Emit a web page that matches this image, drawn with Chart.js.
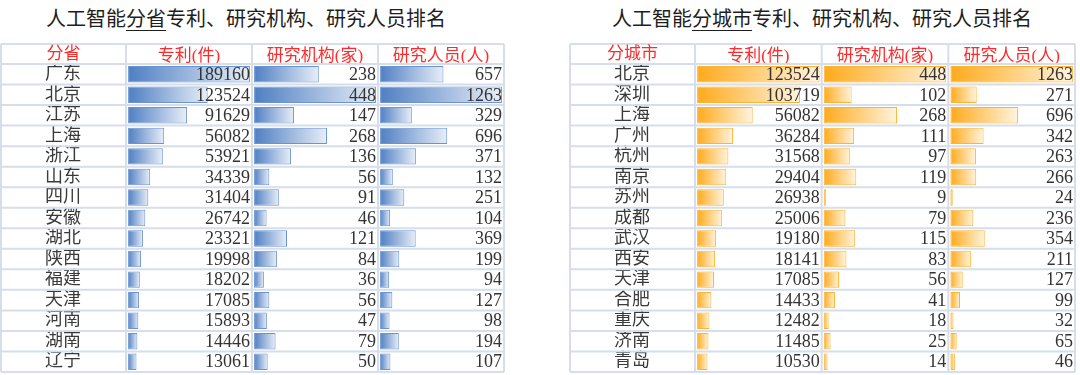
<!DOCTYPE html>
<html>
<head>
<meta charset="utf-8">
<script src="https://cdn.jsdelivr.net/npm/chart.js@4.4.1/dist/chart.umd.min.js"></script>
<style>
  html, body { margin: 0; padding: 0; background: #fff; }
  #page { position: relative; width: 1080px; height: 375px; overflow: hidden; }
  .title { position: absolute; top: 6px; font-family: 'Noto Sans CJK SC', sans-serif; font-size: 20px; line-height: 24px; color: #1e1e1e; text-align: center; white-space: nowrap; }
  .title u { text-underline-offset: 4px; text-decoration-thickness: 1px; }
  canvas { position: absolute; top: 0; }
</style>
</head>
<body>
<div id="page">
  <div class="title" style="left:0; width:492px;">人工智能<u>分省</u>专利、研究机构、研究人员排名</div>
  <div class="title" style="left:572px; width:500px;">人工智能<u>分城市</u>专利、研究机构、研究人员排名</div>
  <canvas id="provinceChart" width="540" height="375" style="left:0;"></canvas>
  <canvas id="cityChart" width="540" height="375" style="left:540px;"></canvas>
</div>
<script>
// 分省
const provinces = ['广东', '北京', '江苏', '上海', '浙江', '山东', '四川', '安徽', '湖北', '陕西', '福建', '天津', '河南', '湖南', '辽宁'];
const provPatents = [189160, 123524, 91629, 56082, 53921, 34339, 31404, 26742, 23321, 19998, 18202, 17085, 15893, 14446, 13061];
const provInstitutes = [238, 448, 147, 268, 136, 56, 91, 46, 121, 84, 36, 56, 47, 79, 50];
const provResearchers = [657, 1263, 329, 696, 371, 132, 251, 104, 369, 199, 94, 127, 98, 194, 107];
const provHeaders = ['分省', '专利(件)', '研究机构(家)', '研究人员(人)'];

// 分城市
const cities = ['北京', '深圳', '上海', '广州', '杭州', '南京', '苏州', '成都', '武汉', '西安', '天津', '合肥', '重庆', '济南', '青岛'];
const cityPatents = [123524, 103719, 56082, 36284, 31568, 29404, 26938, 25006, 19180, 18141, 17085, 14433, 12482, 11485, 10530];
const cityInstitutes = [448, 102, 268, 111, 97, 119, 9, 79, 115, 83, 56, 41, 18, 25, 14];
const cityResearchers = [1263, 271, 696, 342, 263, 266, 24, 236, 354, 211, 127, 99, 32, 65, 46];
const cityHeaders = ['分城市', '专利(件)', '研究机构(家)', '研究人员(人)'];

const blueBars = { start: '#4f7fc2', end: '#e8eef8', border: '#6a93cf' };
const orangeBars = { start: '#ffaa1c', end: '#fff4de', border: '#ffb431' };

const serifFont = "'Liberation Serif', 'Noto Sans CJK SC', serif";
const gridColor = '#d6deec';

// gradient running from the bar's base to its end, like Excel data bars
function barGradient(context, axisId, palette) {
    const chart = context.chart;
    const scale = chart.scales[axisId];
    if (!chart.chartArea || !scale || context.raw === undefined) {
        return palette.start;
    }
    const x0 = scale.getPixelForValue(0);
    const x1 = scale.getPixelForValue(context.raw);
    if (!isFinite(x0) || !isFinite(x1) || x1 <= x0) {
        return palette.start;
    }
    const g = chart.ctx.createLinearGradient(x0, 0, x1, 0);
    g.addColorStop(0, palette.start);
    g.addColorStop(1, palette.end);
    return g;
}

// cell borders + first header cell
const tableGrid = {
    id: 'tableGrid',
    beforeDatasetsDraw(chart) {
        const ctx = chart.ctx;
        const y = chart.scales.y;
        const cols = chart.data.datasets.map(d => chart.scales[d.xAxisID]);
        const top = cols[0].top;
        const left = y.left;
        const right = Math.max(...cols.map(c => c.right));
        const n = chart.data.labels.length;
        ctx.save();
        ctx.strokeStyle = gridColor;
        ctx.lineWidth = 2;
        ctx.beginPath();
        ctx.moveTo(left, top);
        ctx.lineTo(right, top);
        for (let i = 0; i <= n; i++) {
            const yy = y.getPixelForValue(i - 0.5);
            ctx.moveTo(left, yy);
            ctx.lineTo(right, yy);
        }
        const bottom = y.getPixelForValue(n - 0.5);
        ctx.moveTo(left, top);
        ctx.lineTo(left, bottom);
        cols.forEach(c => {
            ctx.moveTo(c.left, top);
            ctx.lineTo(c.left, bottom);
        });
        ctx.moveTo(right, top);
        ctx.lineTo(right, bottom);
        ctx.stroke();

        const head = chart.options.plugins.tableGrid.header;
        ctx.fillStyle = '#ff2a2a';
        ctx.font = "17px " + serifFont;
        ctx.textAlign = 'center';
        ctx.textBaseline = 'middle';
        ctx.fillText(head, (y.left + y.right) / 2, (top + cols[0].bottom) / 2 + 1);
        ctx.restore();
    }
};

// numbers right-aligned in each cell
const cellValues = {
    id: 'cellValues',
    afterDatasetsDraw(chart) {
        const ctx = chart.ctx;
        ctx.save();
        ctx.font = "18px " + serifFont;
        ctx.fillStyle = '#333';
        ctx.textAlign = 'right';
        ctx.textBaseline = 'middle';
        chart.data.datasets.forEach((ds, i) => {
            const scale = chart.scales[ds.xAxisID];
            chart.getDatasetMeta(i).data.forEach((bar, j) => {
                ctx.fillText(String(ds.data[j]), scale.right - 2, bar.y + 1);
            });
        });
        ctx.restore();
    }
};

function buildTable(canvasId, labels, headers, columns, palette, padding) {
    const axisIds = ['x0', 'x1', 'x2'];
    const datasets = columns.map((vals, i) => ({
        label: headers[i + 1],
        data: vals,
        xAxisID: axisIds[i],
        backgroundColor: ctx => barGradient(ctx, axisIds[i], palette),
        borderColor: palette.border,
        borderWidth: 1,
        borderSkipped: false,
        grouped: false,
        barPercentage: 0.8,
        categoryPercentage: 1
    }));

    const scales = {
        y: {
            type: 'category',
            offset: true,
            grid: { display: false },
            border: { display: false },
            ticks: {
                color: '#3a3a3a',
                font: { family: serifFont, size: 18 },
                crossAlign: 'center',
                padding: 37,
                autoSkip: false
            },
            afterFit: function(scale) {
                scale.width = 125;
                // tick padding is only for centring the labels, keep it off the rows
                scale.paddingTop = 0;
                scale.paddingBottom = 0;
            }
        }
    };
    // top-positioned stacked axes are laid out last-first, so add them reversed
    for (let i = columns.length - 1; i >= 0; i--) {
        const vals = columns[i];
        const top = Math.max(...vals);
        scales[axisIds[i]] = {
            type: 'linear',
            position: 'top',
            stack: 'cols',
            stackWeight: 1,
            min: -top * 0.017,
            max: top * 1.017,
            grid: { display: false },
            border: { display: false },
            ticks: { display: false },
            title: {
                display: true,
                text: headers[i + 1],
                color: '#ff2a2a',
                font: { family: serifFont, size: 17 },
                padding: { top: 2, bottom: 0 }
            },
            afterFit: function(scale) {
                scale.height = 20;
            }
        };
    }

    new Chart(document.getElementById(canvasId), {
        type: 'bar',
        data: { labels: labels, datasets: datasets },
        options: {
            indexAxis: 'y',
            responsive: false,
            animation: false,
            layout: { padding: padding },
            plugins: {
                legend: { display: false },
                tooltip: { enabled: false },
                tableGrid: { header: headers[0] }
            },
            scales: scales
        },
        plugins: [tableGrid, cellValues]
    });
}

buildTable('provinceChart', provinces, provHeaders,
    [provPatents, provInstitutes, provResearchers], blueBars,
    { left: 1, top: 44, right: 36, bottom: 3 });

buildTable('cityChart', cities, cityHeaders,
    [cityPatents, cityInstitutes, cityResearchers], orangeBars,
    { left: 30, top: 44, right: 5, bottom: 3 });
</script>
</body>
</html>
